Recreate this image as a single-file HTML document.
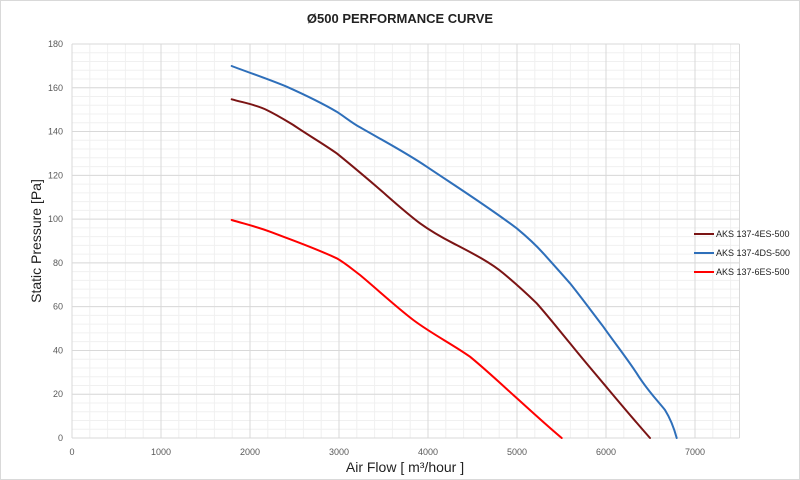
<!DOCTYPE html>
<html><head><meta charset="utf-8"><style>
html,body{margin:0;padding:0;background:#fff;}
svg{display:block;font-family:"Liberation Sans",sans-serif;}
</style></head><body>
<svg width="800" height="480" viewBox="0 0 800 480">
<rect x="0.5" y="0.5" width="799" height="479" fill="#fff" stroke="#d9d9d9"/>
<text x="400" y="23" text-anchor="middle" font-size="13" font-weight="bold" fill="#222">Ø500 PERFORMANCE CURVE</text>
<g id="minor" stroke="#f0f0f0" stroke-width="1"></g>
<g id="major" stroke="#d9d9d9" stroke-width="1"></g>
<g font-size="9" fill="#595959" id="labels"></g>
<text x="405" y="472" text-anchor="middle" font-size="14" fill="#222">Air Flow [ m³/hour ]</text>
<text transform="translate(41,241) rotate(-90)" text-anchor="middle" font-size="14" fill="#222">Static Pressure [Pa]</text>
<g fill="none" stroke-width="2" stroke-linejoin="round" stroke-linecap="round">
<path stroke="#7b1414" d="M231.7,99.3 C245,103 257,105 266.7,110 C277,115 285,120 293.3,125 C308,135 322,143 336.7,153.3 C350,164 363,175 376.7,186.7 C392,200 405,212 420,223.3 C432,232 443,238 453.3,243.3 C470,252 490,262 503.3,273.3 C515,283 526,293 536.7,303.3 C548,316 559,330 570,343.3 C581,357 592,370 603.3,383.3 C619,402 634,420 650,438"/>
<path stroke="#2e6fba" d="M231.7,66 C250,73 268,79 286.7,86.7 C303,94 320,102 336.7,111.7 C345,117 352,123 360,127.3 C382,140 405,152 426.7,166.7 C457,187 487,206 516.7,228.3 C526,236 535,244 543.3,253.3 C552,263 561,273 570,283.3 C581,297 592,312 603.3,326.7 C614,342 626,357 636.7,373.3 C647,390 657,400 665,410 C670,418 674,428 676.7,438"/>
<path stroke="#ff0000" d="M231.7,220 C245,224 258,227 270,231.7 C292,240 315,248 336.7,258.3 C345,263 352,269 360,275 C378,290 395,306 413.3,320 C432,334 452,344 470,356.7 C485,369 499,382 513.3,395 C530,410 545,424 561.7,438"/>
</g>
<g font-size="9" fill="#222">
<line x1="694" y1="234" x2="714" y2="234" stroke="#7b1414" stroke-width="2"/><text x="716" y="237">AKS 137-4ES-500</text>
<line x1="694" y1="253" x2="714" y2="253" stroke="#2e6fba" stroke-width="2"/><text x="716" y="256">AKS 137-4DS-500</text>
<line x1="694" y1="272" x2="714" y2="272" stroke="#ff0000" stroke-width="2"/><text x="716" y="275">AKS 137-6ES-500</text>
</g>
</svg>
<script>
(function(){
var ns="http://www.w3.org/2000/svg";
var minor=document.getElementById("minor"),major=document.getElementById("major"),lab=document.getElementById("labels");
function X(v){return 72+v*0.0890;}function Y(p){return 438-p*2.189;}
function ln(g,x1,y1,x2,y2){var l=document.createElementNS(ns,"line");l.setAttribute("x1",x1);l.setAttribute("y1",y1);l.setAttribute("x2",x2);l.setAttribute("y2",y2);g.appendChild(l);}
function tx(x,y,s,a){var t=document.createElementNS(ns,"text");t.setAttribute("x",x);t.setAttribute("y",y);t.setAttribute("text-anchor",a);t.textContent=s;lab.appendChild(t);}
for(var v=0;v<=7500;v+=200){var x=X(v);ln(minor,x,Y(180),x,Y(0));}
for(var p=0;p<=180;p+=4){ln(minor,X(0),Y(p),X(7500),Y(p));}
for(var v=0;v<=7000;v+=1000){ln(major,X(v),Y(180),X(v),Y(0));tx(X(v),455,String(v),"middle");}
ln(major,X(7500),Y(180),X(7500),Y(0));
for(var p=0;p<=180;p+=20){ln(major,X(0),Y(p),X(7500),Y(p));tx(63,Y(p)+3,String(p),"end");}
})();
</script>
</body></html>
